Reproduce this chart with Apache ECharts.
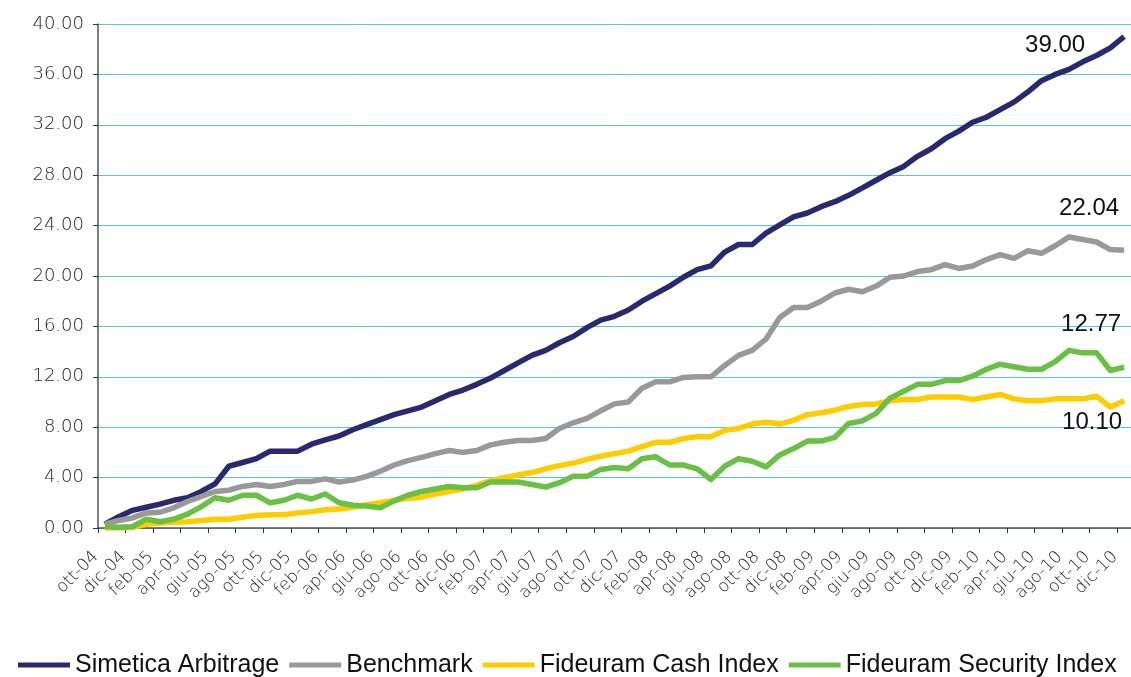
<!DOCTYPE html>
<html><head><meta charset="utf-8">
<script src="https://cdn.jsdelivr.net/npm/echarts@6/dist/echarts.min.js"></script>
<style>html,body{margin:0;padding:0;background:#fff}#c{width:1131px;height:677px}</style>
</head><body><div id="c"></div>
<script>
const categories = [
 'ott-04','nov-04','dic-04',
 'gen-05','feb-05','mar-05','apr-05','mag-05','giu-05','lug-05','ago-05','set-05','ott-05','nov-05','dic-05',
 'gen-06','feb-06','mar-06','apr-06','mag-06','giu-06','lug-06','ago-06','set-06','ott-06','nov-06','dic-06',
 'gen-07','feb-07','mar-07','apr-07','mag-07','giu-07','lug-07','ago-07','set-07','ott-07','nov-07','dic-07',
 'gen-08','feb-08','mar-08','apr-08','mag-08','giu-08','lug-08','ago-08','set-08','ott-08','nov-08','dic-08',
 'gen-09','feb-09','mar-09','apr-09','mag-09','giu-09','lug-09','ago-09','set-09','ott-09','nov-09','dic-09',
 'gen-10','feb-10','mar-10','apr-10','mag-10','giu-10','lug-10','ago-10','set-10','ott-10','nov-10','dic-10'
];
const simetica = [
 0.3,0.9,1.4,1.65,1.9,2.2,2.4,2.9,3.5,4.9,5.2,5.5,6.1,6.1,6.1,6.65,7.0,7.3,7.8,8.2,
 8.6,9.0,9.3,9.6,10.1,10.6,10.95,11.4,11.9,12.5,13.1,13.7,14.1,14.7,15.2,15.9,16.5,16.8,17.3,18.0,
 18.6,19.2,19.9,20.5,20.8,21.9,22.5,22.5,23.4,24.05,24.7,25.0,25.5,25.9,26.4,27.0,27.6,28.2,28.7,29.5,
 30.1,30.9,31.5,32.2,32.6,33.2,33.8,34.6,35.5,36.0,36.4,37.0,37.5,38.1,39.0
];
const benchmark = [
 0.3,0.6,0.8,1.2,1.25,1.6,2.1,2.5,2.9,3.0,3.3,3.45,3.3,3.45,3.7,3.7,3.9,3.65,3.8,4.1,
 4.5,5.0,5.35,5.6,5.9,6.15,6.0,6.15,6.6,6.8,6.95,6.95,7.1,7.9,8.35,8.7,9.3,9.85,10.0,11.1,
 11.6,11.6,11.95,12.0,12.0,12.9,13.7,14.1,15.0,16.7,17.5,17.5,18.0,18.65,18.95,18.75,19.2,19.9,20.0,20.35,
 20.5,20.9,20.6,20.8,21.3,21.7,21.4,22.0,21.8,22.4,23.1,22.9,22.7,22.1,22.04
];
const cashIndex = [
 0.0,0.0,0.05,0.3,0.4,0.45,0.5,0.6,0.7,0.7,0.85,1.0,1.05,1.05,1.2,1.3,1.45,1.5,1.65,1.85,
 2.0,2.2,2.35,2.45,2.7,2.9,3.1,3.4,3.75,4.0,4.2,4.4,4.7,4.95,5.15,5.45,5.7,5.9,6.1,6.45,
 6.8,6.8,7.1,7.25,7.25,7.75,7.9,8.25,8.4,8.25,8.55,9.0,9.15,9.35,9.65,9.8,9.85,10.1,10.2,10.2,
 10.4,10.4,10.4,10.2,10.4,10.6,10.25,10.1,10.1,10.25,10.25,10.25,10.45,9.6,10.1
];
const securityIndex = [
 0.1,0.05,0.1,0.7,0.5,0.7,1.1,1.7,2.4,2.2,2.6,2.6,2.0,2.2,2.6,2.3,2.7,2.0,1.8,1.75,
 1.6,2.15,2.6,2.9,3.1,3.3,3.2,3.2,3.65,3.65,3.65,3.45,3.25,3.6,4.1,4.1,4.65,4.8,4.7,5.5,
 5.65,5.0,5.0,4.7,3.85,4.9,5.5,5.3,4.85,5.8,6.3,6.9,6.9,7.2,8.3,8.5,9.1,10.3,10.85,11.4,
 11.4,11.7,11.7,12.05,12.6,13.0,12.8,12.6,12.6,13.2,14.1,13.9,13.9,12.5,12.77
];
const seriesNames = ['Simetica Arbitrage','Benchmark','Fideuram Cash Index','Fideuram Security Index'];
const seriesColors = ['#272a70','#999999','#ffcc00','#6abf45'];
const endOffsets = [[-69,9],[-35,-42],[-32,22],[-33,-43]];
const allData = [simetica, benchmark, cashIndex, securityIndex];

const chart = echarts.init(document.getElementById('c'), null, {renderer:'canvas'});
const FONT = 'Liberation Sans';
const AXFONT = 'DejaVu Sans';
const series = allData.map((d, k) => ({
  name: seriesNames[k],
  type: 'line',
  data: d,
  symbol: 'none',
  color: seriesColors[k],
  lineStyle: {width: 5.5, color: seriesColors[k], join: 'round'},
  markPoint: {
    symbol: 'circle', symbolSize: 1,
    itemStyle: {color: 'rgba(0,0,0,0)'},
    label: {show: true, position: 'inside', offset: endOffsets[k], color: '#111',
            fontSize: 24, fontFamily: FONT, formatter: p => p.value.toFixed(2)},
    data: [{coord: [categories.length - 1, d[d.length - 1]], value: d[d.length - 1]}]
  }
}));

chart.setOption({
  animation: false,
  backgroundColor: '#ffffff',
  grid: {left: 98, top: 24, width: 1035, height: 504, containLabel: false},
  legend: {
    data: seriesNames, left: 13, top: 647, icon: 'rect',
    itemWidth: 52, itemHeight: 5, itemGap: 10,
    textStyle: {fontSize: 25, fontFamily: FONT, color: '#111', lineHeight: 26}
  },
  xAxis: {
    type: 'category', data: categories, boundaryGap: true,
    axisLine: {lineStyle: {color: '#555', width: 1.5}},
    axisTick: {show: true, interval: 1, length: 5, lineStyle: {color: '#333'}},
    axisLabel: {interval: 1, rotate: 45, margin: 17, padding: [0, 13, 0, 0],
                fontSize: 17, fontFamily: AXFONT, fontWeight: 200, color: '#1e1e1e'},
    splitLine: {show: false}
  },
  yAxis: {
    type: 'value', min: 0, max: 40, interval: 4,
    axisLine: {show: true, lineStyle: {color: '#555', width: 1.5}},
    axisTick: {show: true, length: 5, lineStyle: {color: '#333'}},
    axisLabel: {margin: 14, fontSize: 18, fontFamily: AXFONT, fontWeight: 200, color: '#1e1e1e',
                formatter: v => v.toFixed(2)},
    splitLine: {show: true, lineStyle: {color: '#55c3ea', width: 1}}
  },
  series: series
});
</script>
</body></html>
